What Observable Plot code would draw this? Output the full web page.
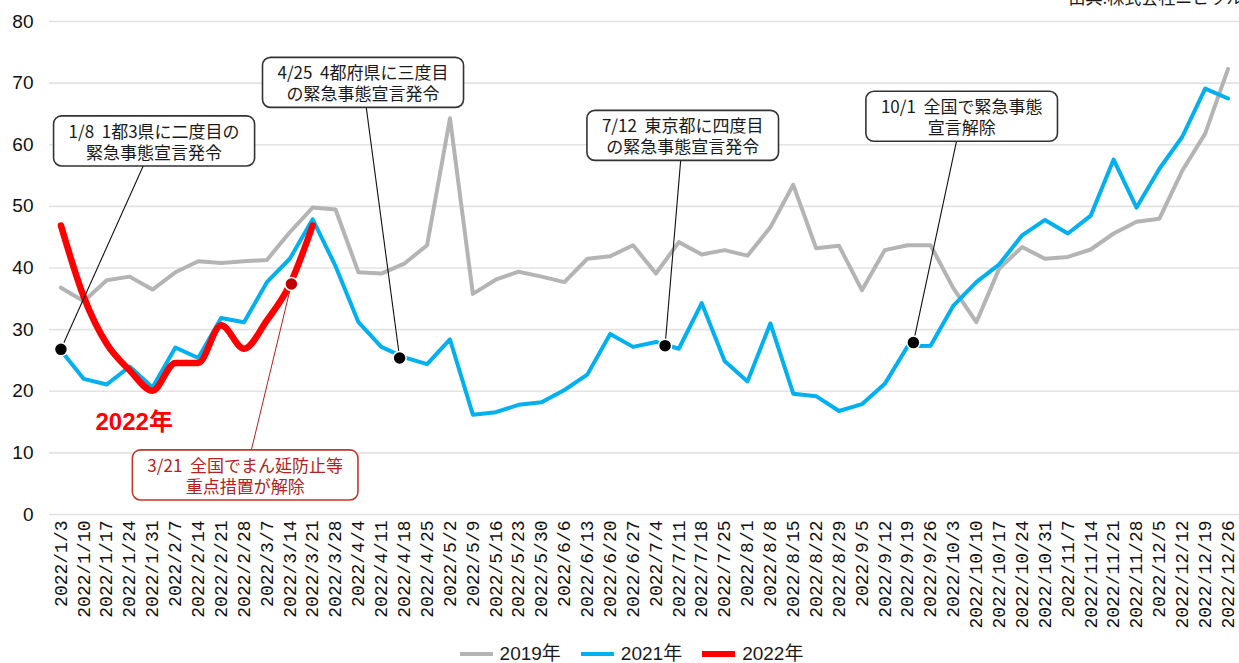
<!DOCTYPE html>
<html>
<head>
<meta charset="utf-8">
<script src="https://cdn.jsdelivr.net/npm/d3@7"></script>
<script src="https://cdn.jsdelivr.net/npm/@observablehq/plot@0.6"></script>
<style>
  html, body { margin: 0; padding: 0; background: #fff; overflow: hidden; }
  #chart { width: 1239px; }
  #legend { height: 20px; line-height: 20px; display: flex; justify-content: center; align-items: center; padding-left: 24px; margin-top: 1px;
    font-family: "Liberation Sans", "Noto Sans CJK JP", sans-serif; font-size: 19px; color: #1a1a1a; }
  #legend .item { display: flex; align-items: center; margin: 0 10px; }
  #legend .sw { display: inline-block; width: 33px; margin-right: 7px; }
</style>
</head>
<body>
<div id="chart"></div>
<div id="legend"></div>
<script>
// ---- data ----
const weekLabels = ["2022/1/3","2022/1/10","2022/1/17","2022/1/24","2022/1/31","2022/2/7","2022/2/14","2022/2/21","2022/2/28","2022/3/7","2022/3/14","2022/3/21","2022/3/28","2022/4/4","2022/4/11","2022/4/18","2022/4/25","2022/5/2","2022/5/9","2022/5/16","2022/5/23","2022/5/30","2022/6/6","2022/6/13","2022/6/20","2022/6/27","2022/7/4","2022/7/11","2022/7/18","2022/7/25","2022/8/1","2022/8/8","2022/8/15","2022/8/22","2022/8/29","2022/9/5","2022/9/12","2022/9/19","2022/9/26","2022/10/3","2022/10/10","2022/10/17","2022/10/24","2022/10/31","2022/11/7","2022/11/14","2022/11/21","2022/11/28","2022/12/5","2022/12/12","2022/12/19","2022/12/26"];

const values2019 = [36.8,34.6,38.0,38.6,36.5,39.3,41.1,40.8,41.1,41.3,45.8,49.8,49.5,39.3,39.1,40.7,43.7,64.3,35.8,38.1,39.4,38.6,37.7,41.5,41.9,43.7,39.1,44.2,42.2,42.9,42.0,46.6,53.5,43.2,43.6,36.4,42.9,43.7,43.7,36.7,31.2,39.9,43.4,41.5,41.8,43.0,45.6,47.5,48.0,55.8,61.8,72.3];

const values2021 = [26.6,22.0,21.1,24.0,20.6,27.1,25.4,31.9,31.2,37.7,41.5,47.9,40.3,31.2,27.2,25.5,24.4,28.4,16.2,16.6,17.8,18.2,20.2,22.7,29.3,27.2,28.0,26.9,34.3,24.9,21.6,31.0,19.6,19.2,16.8,17.9,21.2,27.3,27.4,33.9,37.7,40.6,45.3,47.8,45.6,48.5,57.6,49.8,56.1,61.3,69.1,67.5];

const values2022 = [46.9,35.3,27.7,23.4,20.1,24.6,24.6,30.7,26.9,31.5,37.3,46.9];

const seriesNames = ["2019年","2021年","2022年"];
const yTicks = [0,10,20,30,40,50,60,70,80];

// events: dot position (week index, value) and label box centre (week index, value)
const events = [
  {label: "1/8  1都3県に二度目の\n緊急事態宣言発令", dotX: 0, dotY: 26.8, boxX: 4.07, boxY: 60.5},
  {label: "4/25  4都府県に三度目\nの緊急事態宣言発令", dotX: 14.8, dotY: 25.4, boxX: 13.2, boxY: 70.0},
  {label: "7/12  東京都に四度目\nの緊急事態宣言発令", dotX: 26.4, dotY: 27.4, boxX: 27.17, boxY: 61.4},
  {label: "10/1  全国で緊急事態\n宣言解除", dotX: 37.25, dotY: 27.9, boxX: 39.36, boxY: 64.5}
];
const releaseEvent = [
  {label: "3/21  全国でまん延防止等\n重点措置が解除", dotX: 10.07, dotY: 37.4, boxX: 8.05, boxY: 6.3}
];
const seriesLabel2022 = [{label: "2022年", x: 3.2, y: 14.9}];
const sourceNote = ["出典:株式会社ニピッル"];

// ---- build tables ----
const toRows = vals => vals.map((v, i) => ({i, v}));
const rows2019 = toRows(values2019);
const rows2021 = toRows(values2021);
const rows2022 = toRows(values2022);

const colors = {"2019年": "#b4b4b4", "2021年": "#00b0f0", "2022年": "#ff0000"};
const widths = {"2019年": 4, "2021年": 4, "2022年": 6.5};

const jp = "'Noto Sans CJK JP', sans-serif";

const chart = Plot.plot({
  width: 1239,
  height: 643,
  marginTop: 21,
  marginBottom: 129,
  marginLeft: 49,
  marginRight: 0,
  style: {background: "white", fontFamily: "'Liberation Sans', sans-serif"},
  x: {type: "linear", domain: [-0.5, 51.5]},
  y: {domain: [0, 80]},
  marks: [
    Plot.gridY(yTicks, {stroke: "#e3e3e3", strokeOpacity: 1, strokeWidth: 1.6}),
    Plot.axisY({ticks: yTicks, tickSize: 0, tickPadding: 16, fontSize: 19, fill: "#111", label: null}),
    Plot.axisX({ticks: d3.range(weekLabels.length), tickFormat: i => weekLabels[i], tickRotate: -90,
      tickSize: 0, tickPadding: 6, fontSize: 18, fontFamily: "'Liberation Mono', monospace", fill: "#111", label: null}),
    Plot.line(rows2019, {x: "i", y: "v", stroke: colors["2019年"], strokeWidth: widths["2019年"]}),
    Plot.line(rows2021, {x: "i", y: "v", stroke: colors["2021年"], strokeWidth: widths["2021年"]}),
    Plot.line(rows2022, {x: "i", y: "v", stroke: colors["2022年"], strokeWidth: widths["2022年"], curve: "monotone-x"}),
    Plot.link(events, {x1: "dotX", y1: "dotY", x2: "boxX", y2: "boxY", stroke: "#111", strokeWidth: 1.1}),
    Plot.link(releaseEvent, {x1: "dotX", y1: "dotY", x2: "boxX", y2: "boxY", stroke: "#b52020", strokeWidth: 1}),
    Plot.dot(events, {x: "dotX", y: "dotY", r: 6.5, fill: "#000", stroke: "#fff", strokeWidth: 1.5}),
    Plot.dot(releaseEvent, {x: "dotX", y: "dotY", r: 6.5, fill: "#c00000", stroke: "#fff", strokeWidth: 1.5}),
    Plot.text(events, {x: "boxX", y: "boxY", text: "label", fontSize: 17, lineHeight: 1.24,
      fontFamily: jp, fill: "#1a1a1a"}),
    Plot.text(releaseEvent, {x: "boxX", y: "boxY", text: "label", fontSize: 17, lineHeight: 1.24,
      fontFamily: jp, fill: "#b52020"}),
    Plot.text(seriesLabel2022, {x: "x", y: "y", text: "label", fontSize: 24, fontWeight: "bold",
      fontFamily: "'Liberation Sans', 'Noto Sans CJK JP', sans-serif", fill: "#ff0000"}),
    Plot.text(sourceNote, {frameAnchor: "top-right", textAnchor: "start", lineAnchor: "bottom",
      dx: -171, dy: -18, fontSize: 17, fontFamily: jp, fill: "#1a1a1a"})
  ]
});
chart.style.overflow = "hidden";
document.getElementById("chart").appendChild(chart);

// rounded boxes behind annotation text
function boxes(list, stroke) {
  const wanted = new Set(list.map(d => d.label.replace(/\n/g, "")));
  chart.querySelectorAll("text").forEach(t => {
    if (!wanted.has(t.textContent)) return;
    const b = t.getBBox();
    const padX = 15, padY = 2;
    const r = document.createElementNS("http://www.w3.org/2000/svg", "rect");
    r.setAttribute("x", b.x - padX);
    r.setAttribute("y", b.y - padY);
    r.setAttribute("width", b.width + 2 * padX);
    r.setAttribute("height", b.height + 2 * padY);
    r.setAttribute("rx", 8);
    r.setAttribute("fill", "#fff");
    r.setAttribute("stroke", stroke);
    r.setAttribute("stroke-width", 1.6);
    const tr = t.getAttribute("transform");
    if (tr) r.setAttribute("transform", tr);
    t.parentNode.insertBefore(r, t);
  });
}
boxes(events, "#333");
boxes(releaseEvent, "#c0392b");

// legend
const legend = document.getElementById("legend");
seriesNames.forEach(name => {
  const item = document.createElement("span");
  item.className = "item";
  const sw = document.createElement("span");
  sw.className = "sw";
  sw.style.height = widths[name] + "px";
  sw.style.background = colors[name];
  const tx = document.createElement("span");
  tx.textContent = name;
  item.appendChild(sw);
  item.appendChild(tx);
  legend.appendChild(item);
});
</script>
</body>
</html>
